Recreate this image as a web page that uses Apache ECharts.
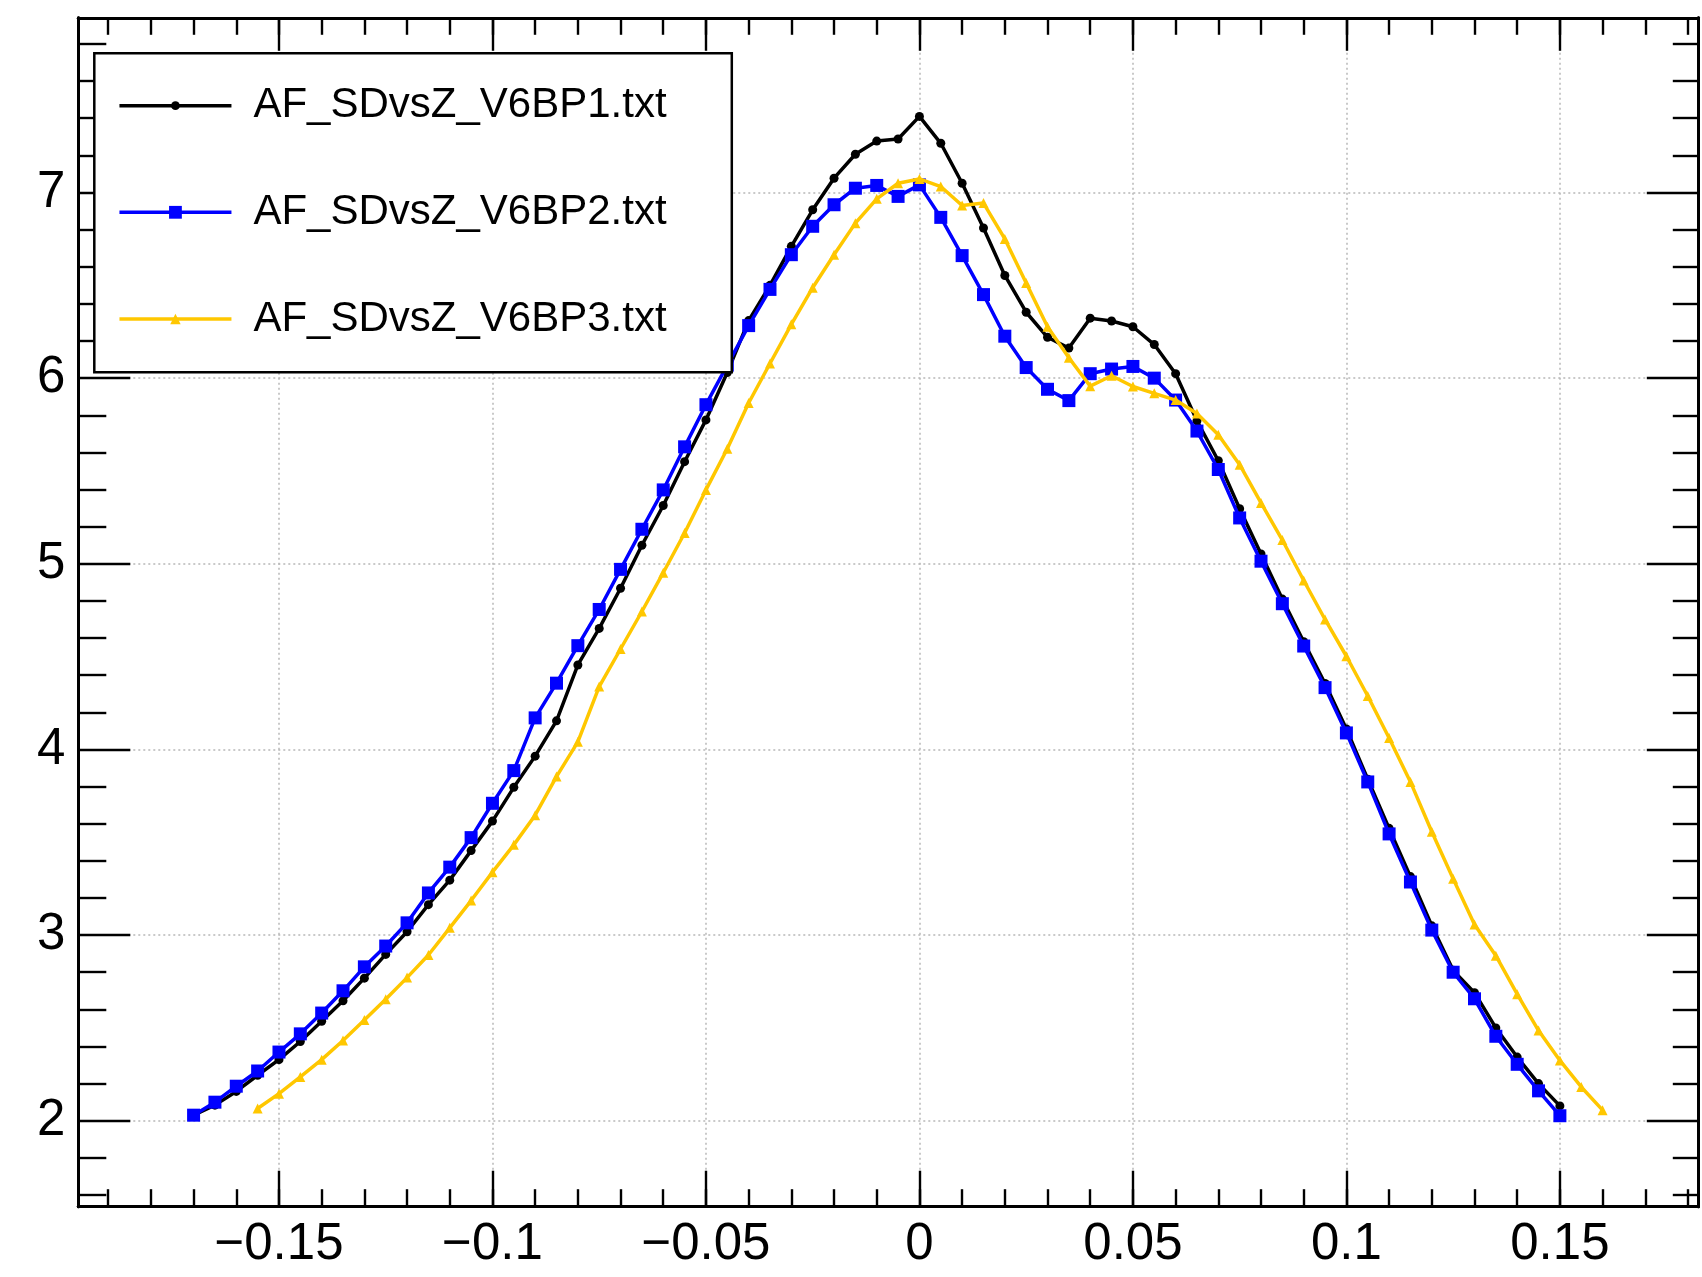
<!DOCTYPE html>
<html><head><meta charset="utf-8">
<script src="https://cdn.jsdelivr.net/npm/echarts@6/dist/echarts.min.js"></script>
<style>html,body{margin:0;padding:0;background:#fff}#c{width:1702px;height:1277px}</style>
</head><body><div id="c"></div><script>
// z positions shared by series 1 and 2
const zAB = [-0.17,-0.165,-0.16,-0.155,-0.15,-0.145,-0.14,-0.135,-0.13,-0.125,-0.12,-0.115,-0.11,-0.105,-0.1,
  -0.095,-0.09,-0.085,-0.08,-0.075,-0.07,-0.065,-0.06,-0.055,-0.05,-0.045,-0.04,-0.035,-0.03,-0.025,-0.02,-0.015,-0.01,-0.005,0,
  0.005,0.01,0.015,0.02,0.025,0.03,0.035,0.04,0.045,0.05,0.055,0.06,0.065,0.07,0.075,0.08,0.085,0.09,0.095,0.1,
  0.105,0.11,0.115,0.12,0.125,0.13,0.135,0.14,0.145,0.15];
// z positions of series 3
const zC = [-0.155,-0.15,-0.145,-0.14,-0.135,-0.13,-0.125,-0.12,-0.115,-0.11,-0.105,-0.1,
  -0.095,-0.09,-0.085,-0.08,-0.075,-0.07,-0.065,-0.06,-0.055,-0.05,-0.045,-0.04,-0.035,-0.03,-0.025,-0.02,-0.015,-0.01,-0.005,0,
  0.005,0.01,0.015,0.02,0.025,0.03,0.035,0.04,0.045,0.05,0.055,0.06,0.065,0.07,0.075,0.08,0.085,0.09,0.095,0.1,
  0.105,0.11,0.115,0.12,0.125,0.13,0.135,0.14,0.145,0.15,0.155,0.16];
const bp1 = [2.03,2.084,2.158,2.245,2.329, 2.427,2.536,2.646,2.768,2.896, 3.018,3.164,3.296,3.455,3.614,
  3.796,3.964,4.154,4.455,4.652, 4.868,5.10,5.314,5.55,5.775, 6.03,6.31,6.50,6.71,6.907,
  7.077,7.206,7.277,7.288,7.41, 7.265,7.05,6.809,6.553,6.355, 6.22,6.162,6.323,6.308,6.277,
  6.181,6.024,5.77,5.555,5.297, 5.053,4.81,4.58,4.355,4.11, 3.84,3.575,3.315,3.05,2.81, 2.69,2.50,2.343,2.20,2.08];
const bp2 = [2.03,2.10,2.186,2.268,2.37, 2.468,2.58,2.70,2.829,2.941, 3.066,3.227,3.366,3.525,3.71,
  3.886,4.17,4.357,4.559,4.754, 4.97,5.186,5.398,5.63,5.857, 6.07,6.283,6.478,6.665,6.818,
  6.934,7.023,7.038,6.979,7.041, 6.866,6.66,6.45,6.226,6.057, 5.94,5.879,6.024,6.049,6.063,
  6.0,5.882,5.715,5.508,5.247, 5.014,4.785,4.557,4.333,4.089, 3.825,3.545,3.286,3.027,2.80, 2.657,2.455,2.304,2.161,2.027];
const bp3 = [2.066,2.146,2.236,2.329,2.432, 2.543,2.655,2.771,2.893,3.039, 3.186,3.339,3.486,3.646,3.854,
  4.041,4.339,4.541,4.743,4.952, 5.166,5.398,5.62,5.866,6.079, 6.29,6.487,6.665,6.835,6.966,
  7.05,7.073,7.032,6.93,6.943, 6.75,6.512,6.277,6.11,5.957, 6.013,5.955,5.918,5.882,5.81,
  5.695,5.534,5.328,5.128,4.91, 4.70,4.502,4.288,4.062,3.825, 3.557,3.304,3.057,2.889,2.682, 2.486,2.325,2.182,2.057];
const names = ['AF_SDvsZ_V6BP1.txt','AF_SDvsZ_V6BP2.txt','AF_SDvsZ_V6BP3.txt'];
const xMajor = [-0.15,-0.1,-0.05,0,0.05,0.1,0.15];
const xMinor = [-0.19,-0.18,-0.17,-0.16,-0.15,-0.14,-0.13,-0.12,-0.11,-0.1,-0.09,-0.08,-0.07,-0.06,-0.05,-0.04,-0.03,-0.02,-0.01,0,
  0.01,0.02,0.03,0.04,0.05,0.06,0.07,0.08,0.09,0.1,0.11,0.12,0.13,0.14,0.15,0.16,0.17,0.18];
const yMajor = [2,3,4,5,6,7];
const yMinor = [1.6,1.8,2.2,2.4,2.6,2.8,3.2,3.4,3.6,3.8,4.2,4.4,4.6,4.8,5.2,5.4,5.6,5.8,6.2,6.4,6.6,6.8,7.2,7.4,7.6,7.8];

const X_MIN = -0.197, X_MAX = 0.1823, Y_MIN = 1.537, Y_MAX = 7.941;
const FONT = '"Liberation Sans", Arial, Helvetica, sans-serif';
function fmt(v){ const s = String(Math.abs(v)); return v < 0 ? '\u2212' + s : s; }

function ax(dim, pos, ticks, len, labels, split){
  return {
    type:'value', position:pos, gridIndex:0,
    min: dim==='x' ? X_MIN : Y_MIN, max: dim==='x' ? X_MAX : Y_MAX,
    axisLine:{show:true, onZero:false, lineStyle:{color:'#000', width:3}},
    axisTick:{show:true, inside:true, length:len, customValues:ticks, lineStyle:{color:'#000', width:2.4}},
    axisLabel:{show:labels, customValues:ticks, formatter:fmt, fontSize:51, fontFamily:FONT, color:'#000', margin:13},
    splitLine:{show:split, lineStyle:{color:'#b8b8b8', width:1.5, type:[2,3]}},
    minorTick:{show:false}, minorSplitLine:{show:false}
  };
}
function leg(name, top, h){
  return { data:[name], left:117.7, top:top, orient:'vertical', itemWidth:112, itemHeight:h,
    padding:0, itemGap:0, selectedMode:false, z:60,
    lineStyle:{width:3.5},
    textStyle:{fontSize:42, fontFamily:FONT, color:'#000', lineHeight:42, padding:[0,0,0,17]} };
}
function ser(name, zs, vals, color, symbol, size, z){
  return { type:'line', name:name, xAxisIndex:0, yAxisIndex:0,
    data: zs.map((x,i)=>[x, vals[i]]), symbol:symbol, symbolSize:size, showAllSymbol:true,
    color:color, lineStyle:{width:3.5, color:color}, itemStyle:{color:color},
    emphasis:{disabled:true}, z:z, animation:false };
}

const chart = echarts.init(document.getElementById('c'), null, {renderer:'canvas'});
chart.setOption({
  animation:false,
  backgroundColor:'#fff',
  grid:{left:78.3, top:17.8, right:4.2, bottom:70.3, containLabel:false, outerBoundsMode:'none'},
  xAxis:[
    ax('x','bottom', xMajor, 36, true, true),
    ax('x','bottom', xMinor, 17.5, false, false),
    ax('x','top', xMajor, 33, false, false),
    ax('x','top', xMinor, 17, false, false)
  ],
  yAxis:[
    ax('y','left', yMajor, 52, true, true),
    ax('y','left', yMinor, 28, false, false),
    ax('y','right', yMajor, 51, false, false),
    ax('y','right', yMinor, 25, false, false)
  ],
  legend:[ leg(names[0], 84.7, 11), leg(names[1], 191.3, 16), leg(names[2], 298, 13) ],
  graphic:[{ type:'rect', shape:{x:94.3, y:53.3, width:637.5, height:319},
    style:{fill:'#fff', stroke:'#000', lineWidth:2.5}, z:50 }],
  series:[
    ser(names[0], zAB, bp1, '#000000', 'circle', 9, 3),
    ser(names[1], zAB, bp2, '#0000ff', 'rect', 13, 4),
    ser(names[2], zC, bp3, '#ffc700', 'triangle', 10, 5)
  ]
});
</script></body></html>
